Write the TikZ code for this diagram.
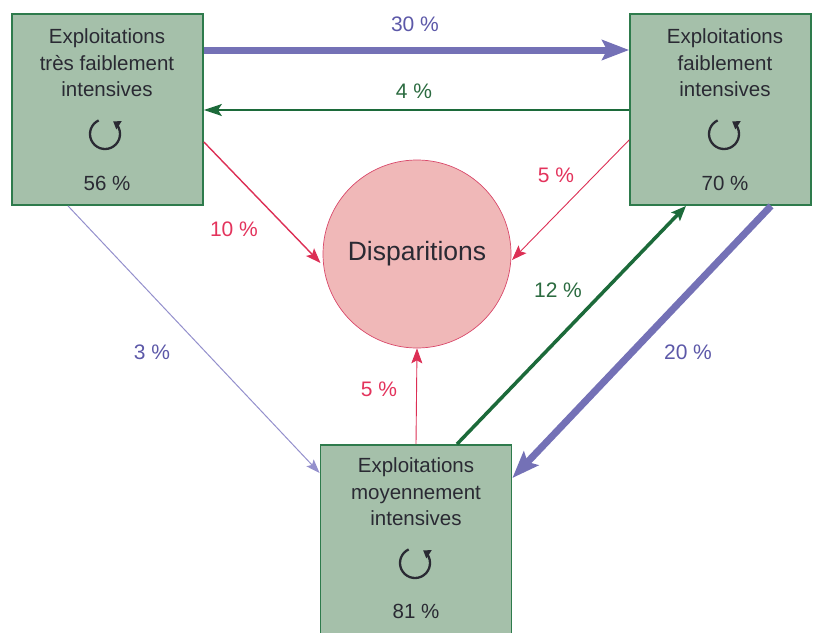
\documentclass[tikz,border=0pt]{standalone}
\usepackage{fontspec}
\setmainfont{Liberation Sans}
\usetikzlibrary{arrows.meta}
\definecolor{boxfill}{HTML}{A5C0AA}
\definecolor{boxline}{HTML}{2E7B4C}
\definecolor{flowblue}{HTML}{7471B6}
\definecolor{lightblue}{HTML}{9490CC}
\definecolor{flowgreen}{HTML}{1C6A3A}
\definecolor{flowred}{HTML}{DC2F55}
\definecolor{discfill}{HTML}{F0B8B8}
\definecolor{discline}{HTML}{D9486A}
\definecolor{lblblue}{HTML}{5C58A8}
\definecolor{lblred}{HTML}{E3335C}
\definecolor{lblgreen}{HTML}{2B6B40}
\definecolor{txt}{HTML}{2A2A33}
\begin{document}
\begin{tikzpicture}[x=1pt,y=-1pt,
  box/.style={draw=boxline, line width=1.8pt, fill=boxfill, inner sep=0pt},
  boxtext/.style={font=\fontsize{20.5}{26.5}\selectfont, align=center, text=txt, inner sep=0pt},
  lbl/.style={font=\fontsize{21}{24}\selectfont, inner sep=0pt},
  disc/.style={circle, draw=discline, line width=0.7pt, fill=discfill, minimum size=188pt, inner sep=0pt, font=\fontsize{26.5}{30}\selectfont, text=txt},
  cyc/.pic={\draw[line width=2.3pt, draw=txt, -{Triangle[length=7pt,width=9.5pt]}] (-115:15) arc[start angle=-115, end angle=-417, radius=15];},
  bigblue/.style={draw=flowblue, line width=7pt, -{Stealth[length=27pt,width=20pt,inset=5pt]}},
  thinblue/.style={draw=lightblue, line width=1pt, -{Stealth[length=14pt,width=10pt,inset=3pt]}},
  biggreen/.style={draw=flowgreen, line width=3.5pt, -{Stealth[length=15pt,width=12pt,inset=3pt]}},
  thingreen/.style={draw=flowgreen, line width=1.8pt, -{Stealth[length=18pt,width=12pt,inset=4pt]}},
  redflow/.style={draw=flowred, line width=1.4pt, -{Stealth[length=15pt,width=11pt,inset=3pt]}},
  thinred/.style={draw=flowred, line width=0.9pt, -{Stealth[length=15pt,width=11pt,inset=3pt]}},
]
\useasboundingbox (0,0) rectangle (813,632);
\clip (0,0) rectangle (813,632);

% boxes
\node[box, minimum width=191pt, minimum height=191pt] (A) at (107.5,109.5) {};
\node[box, minimum width=181pt, minimum height=191pt] (B) at (720.5,109.5) {};
\node[box, minimum width=191pt, minimum height=195pt] (C) at (416,542.5) {};

% disc
\node[disc] (D) at (417,254) {Disparitions};

% box texts
\node[boxtext] (At) at (107,63) {Exploitations\\très faiblement\\intensives};
\node[boxtext] (Ap) at (107,183) {56 \%};
\pic at (105,134) {cyc};
\node[boxtext] (Bt) at (725,63) {Exploitations\\faiblement\\intensives};
\node[boxtext] (Bp) at (725,183) {70 \%};
\pic at (724,134) {cyc};
\node[boxtext] (Ct) at (416,492) {Exploitations\\moyennement\\intensives};
\node[boxtext] (Cp) at (416,611) {81 \%};
\pic at (415,563) {cyc};

% anchor coordinates on borders
\coordinate (a1) at (A.east |- 0,50);
\coordinate (b1) at (B.west |- 0,50);
\coordinate (b2) at (B.west |- 0,110);
\coordinate (a2) at (A.east |- 0,110);
\coordinate (a3) at (A.east |- 0,142);
\coordinate (d3) at (320.5,263);
\coordinate (b4) at (B.west |- 0,140);
\coordinate (d4) at (512,260);
\coordinate (a5) at (A.south -| 68,0);
\coordinate (c5) at (C.west |- 0,473);
\coordinate (c6) at (C.north -| 416,0);
\coordinate (d6) at (D.south);
\coordinate (c7) at (C.north -| 457,0);
\coordinate (b7) at (B.south -| 686,0);
\coordinate (b8) at (B.south -| 771,0);
\coordinate (c8) at (C.east |- 0,478);

% connectors
\draw[bigblue] (a1) -- (b1);
\draw[thingreen] (b2) -- (a2);
\draw[redflow] (a3) -- (d3);
\draw[thinred] (b4) -- (d4);
\draw[thinblue] (a5) -- (c5);
\draw[thinred] (c6) -- (d6);
\draw[biggreen] (c7) -- (b7);
\draw[bigblue] (b8) -- (c8);

% labels
\node[lbl, text=lblblue] (l30) at (415,24) {30 \%};
\node[lbl, text=lblgreen] (l4) at (414,91) {4 \%};
\node[lbl, text=lblred] (l10) at (234,229) {10 \%};
\node[lbl, text=lblred] (l5a) at (556,175) {5 \%};
\node[lbl, text=lblblue] (l3) at (152,352) {3 \%};
\node[lbl, text=lblred] (l5b) at (379,389) {5 \%};
\node[lbl, text=lblgreen] (l12) at (558,290) {12 \%};
\node[lbl, text=lblblue] (l20) at (688,352) {20 \%};
\end{tikzpicture}
\end{document}
